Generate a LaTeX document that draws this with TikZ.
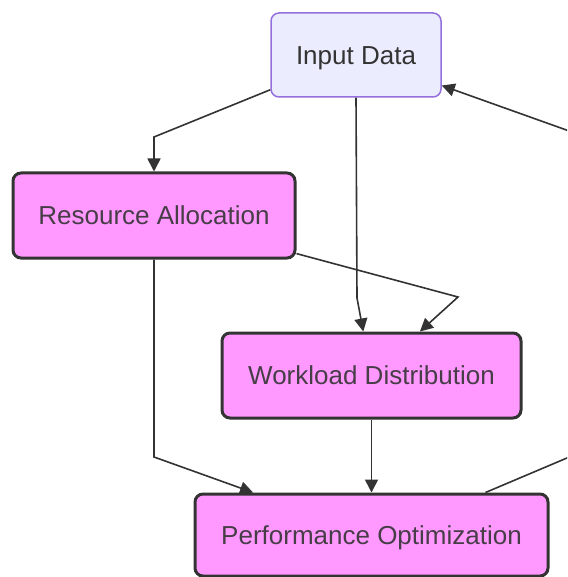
\documentclass[tikz,border=0pt]{standalone}
\usepackage{fontspec}
\setmainfont{Liberation Sans}
\usetikzlibrary{arrows.meta}

\definecolor{datafill}{HTML}{ECECFF}
\definecolor{dataline}{HTML}{9370DB}
\definecolor{mainfill}{HTML}{FF99FF}
\definecolor{darkline}{HTML}{333333}

\begin{document}
\begin{tikzpicture}[
    x = 1pt, y = -1pt,
    font = \fontsize{26}{30}\selectfont,
    data/.style = {draw = dataline, fill = datafill, line width = 1.5pt,
        rounded corners = 8pt, text = darkline, inner sep = 0pt,
        text height = 18.5pt, text depth = 0pt},
    main/.style = {draw = darkline, fill = mainfill, line width = 3pt,
        rounded corners = 8pt, text = darkline!90!mainfill, inner sep = 0pt,
        text height = 18.5pt, text depth = 0pt},
    link/.style = {draw = darkline, line width = 1.6pt,
        -{Triangle[length = 13pt, width = 13pt]}}
]
\useasboundingbox (0,0) rectangle (567,577);
\clip (0,0) rectangle (567,577);

% Nodes
\node[data, minimum width = 170pt, minimum height = 84pt] (Input) at (356,55) {Input Data};
\node[main, minimum width = 282pt, minimum height = 85pt] (Resource) at (154,215.5) {Resource Allocation};
\node[main, minimum width = 299pt, minimum height = 85pt] (Workload) at (371.5,375.5) {Workload Distribution};
\node[main, minimum width = 353pt, minimum height = 82pt] (Performance) at (371.5,535) {Performance Optimization};

% Bend points
\coordinate (r1) at (154,137);
\coordinate (w1) at (357,298);
\coordinate (r2) at (458,297);
\coordinate (r3) at (154,457);
\coordinate (p1) at (600,444);
\coordinate (p2) at (600,142);

% Connections
\draw[link] (Input) -- (r1) -- (Resource.north);
\draw[link] (Input.south) -- (w1) -- (Workload);
\draw[link] (Resource) -- (r2) -- (Workload);
\draw[link] (Resource) -- (r3) -- (Performance);
\draw[link] (Workload) -- (Performance);

% Feedback loop
\draw[link] ([xshift=-64pt]Performance.north east) -- (p1) -- (p2) -- (Input);

\end{tikzpicture}
\end{document}
